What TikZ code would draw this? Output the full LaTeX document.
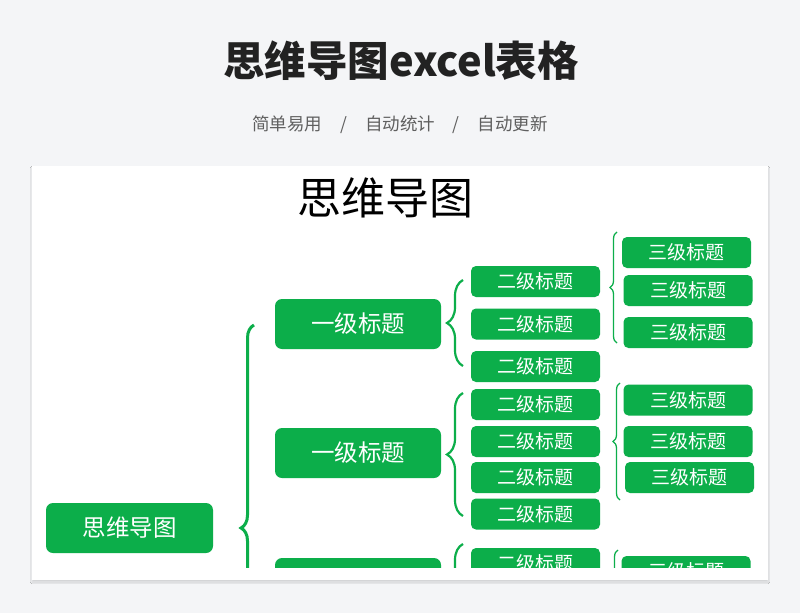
\documentclass[tikz,border=0pt]{standalone}
\usepackage{fontspec}
\newfontfamily\cjk{Noto Sans CJK SC}
\usepackage{xcolor}
\definecolor{mapgreen}{RGB}{12, 174, 74}
\definecolor{pagegray}{RGB}{244, 245, 247}
\definecolor{headblack}{RGB}{34, 34, 34}
\definecolor{subgray}{RGB}{95, 95, 95}
\usetikzlibrary{
  positioning, decorations.pathreplacing, shadows.blur
}

\begin{document}
\begin{tikzpicture}[
    x=1pt, y=-1pt,
    mapcore/.style={
      rectangle, rounded corners=7pt, fill=mapgreen, text=white,
      minimum width=167pt, minimum height=50pt, inner sep=0pt,
      font=\cjk\fontsize{23.5}{23.5}\selectfont
    },
    lvlone/.style={mapcore, minimum width=166pt},
    lvltwo/.style={
      rectangle, rounded corners=5pt, fill=mapgreen, text=white,
      minimum width=129pt, minimum height=31pt, inner sep=0pt,
      font=\cjk\fontsize{19}{19}\selectfont
    },
    lvlthree/.style={lvltwo},
    bigbrace/.style={draw=mapgreen, line width=3pt,
      decorate, decoration={brace, amplitude=13pt}},
    midbrace/.style={draw=mapgreen, line width=2.2pt,
      decorate, decoration={brace, amplitude=16pt}},
    thinbrace/.style={draw=mapgreen, line width=1.3pt,
      decorate, decoration={brace, amplitude=7pt}}
  ]
    \useasboundingbox (0,0) rectangle (800,613);
    \fill[pagegray] (0,0) rectangle (800,613);

    % heading
    \node[font=\cjk\bfseries\fontsize{41.5}{41.5}\selectfont, text=headblack]
      (heading) at (401,61) {思维导图excel表格};
    \node[font=\cjk\fontsize{17.5}{17.5}\selectfont, text=subgray]
      (tagline) at (400,125)
      {简单易用\hspace{18pt}/\hspace{18pt}自动统计\hspace{18pt}/\hspace{18pt}自动更新};

    % sheet
    \fill[white, blur shadow={shadow xshift=0pt, shadow yshift=-2pt,
      shadow blur steps=10, shadow opacity=15}] (32,166) rectangle (768,580);
    \node[font=\cjk\fontsize{44}{44}\selectfont, text=black]
      (mapname) at (385,198) {思维导图};

    \begin{scope}
    \clip (32,166) rectangle (768,567);

    \node[mapcore] (core) at (129.5,528) {思维导图};

    \node[lvlone] (one1) at (358,324) {一级标题};
    \node[lvlone] (one2) at (358,453) {一级标题};
    \node[lvlone] (one3) at (358,583) {一级标题};

    \node[lvltwo] (two11) at (535.5,281.5) {二级标题};
    \node[lvltwo] (two12) at (535.5,324)   {二级标题};
    \node[lvltwo] (two13) at (535.5,366.5) {二级标题};
    \node[lvltwo] (two21) at (535.5,404.5) {二级标题};
    \node[lvltwo] (two22) at (535.5,441.5) {二级标题};
    \node[lvltwo] (two23) at (535.5,477.5) {二级标题};
    \node[lvltwo] (two24) at (535.5,514)   {二级标题};
    \node[lvltwo] (two31) at (535.5,563.5) {二级标题};

    \node[lvlthree] (three11) at (686.5,252.5) {三级标题};
    \node[lvlthree] (three12) at (688,290.5)   {三级标题};
    \node[lvlthree] (three13) at (688,332.5)   {三级标题};
    \node[lvlthree] (three21) at (688,400)     {三级标题};
    \node[lvlthree] (three22) at (688,441.5)   {三级标题};
    \node[lvlthree] (three23) at (689.5,477.5) {三级标题};
    \node[lvlthree] (three31) at (686,571.5)   {三级标题};

    % braces
    \coordinate (core-top) at (254,325);
    \coordinate (core-bot) at (254,731);
    \coordinate (one1-top) at (463,280);
    \coordinate (one1-bot) at (463,366);
    \coordinate (one2-top) at (463,393);
    \coordinate (one2-bot) at (463,516);
    \coordinate (one3-top) at (463,544);
    \coordinate (one3-bot) at (463,640);
    \coordinate (two1-top) at (617,232);
    \coordinate (two1-bot) at (617,343);
    \coordinate (two2-top) at (620,383);
    \coordinate (two2-bot) at (620,500);
    \coordinate (two3-top) at (618,550);
    \coordinate (two3-bot) at (618,650);

    \draw[bigbrace]  (core-bot) -- (core-top);
    \draw[midbrace]  (one1-bot) -- (one1-top);
    \draw[midbrace]  (one2-bot) -- (one2-top);
    \draw[midbrace]  (one3-bot) -- (one3-top);
    \draw[thinbrace] (two1-bot) -- (two1-top);
    \draw[thinbrace] (two2-bot) -- (two2-top);
    \draw[thinbrace] (two3-bot) -- (two3-top);
    \end{scope}
  \end{tikzpicture}
\end{document}
